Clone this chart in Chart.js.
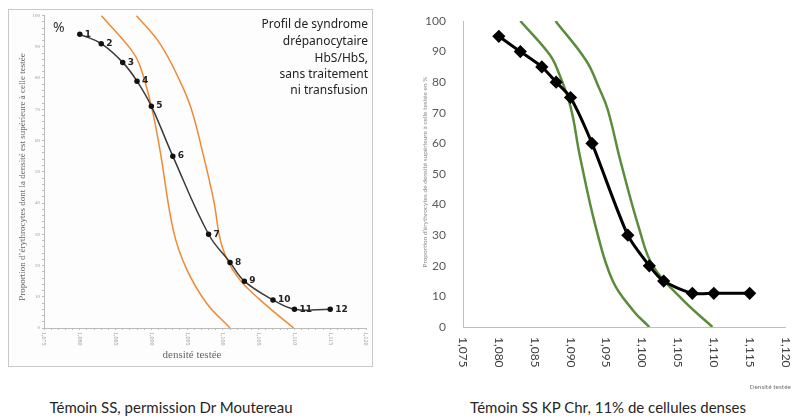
<!DOCTYPE html>
<html>
<head>
<meta charset="utf-8">
<script src="https://cdn.jsdelivr.net/npm/chart.js@4.4.0/dist/chart.umd.min.js"></script>
<style>
  body { margin: 0; width: 793px; height: 416px; background: #fff; position: relative; overflow: hidden; }
  #box { position: absolute; left: 8px; top: 9px; width: 363px; height: 356px; border: 1px solid #c9c9c9; background: #fdfdfd; }
  #left { position: absolute; left: 0; top: 0; }
  #right { position: absolute; left: 400px; top: 0; }
  .caption { position: absolute; top: 398px; font-family: Lato, sans-serif; font-size: 15px; color: #262626; white-space: nowrap; transform: translateX(-50%); }
</style>
</head>
<body>
<div id="box"><canvas id="left" width="363" height="356"></canvas></div>
<canvas id="right" width="393" height="392"></canvas>
<div class="caption" style="left:171px">Témoin SS, permission Dr Moutereau</div>
<div class="caption" style="left:608px">Témoin SS KP Chr, 11% de cellules denses</div>
<script>
// left panel (scan, Dr Moutereau)
const leftDensity = [1.080, 1.083, 1.086, 1.088, 1.090, 1.093, 1.098, 1.101, 1.103, 1.107, 1.110, 1.115];
const leftPercent = [94, 91, 85, 79, 71, 55, 30, 21, 15, 9, 6, 6];
const leftNumbers = ['1', '2', '3', '4', '5', '6', '7', '8', '9', '10', '11', '12'];
const leftLowX = [1.0830, 1.0872, 1.0884, 1.0900, 1.0912, 1.0931, 1.0949, 1.0977, 1.1010];
const leftLowY = [100, 89, 84, 71, 57, 31, 19, 8, 0];
const leftHighX = [1.0879, 1.0912, 1.0940, 1.0956, 1.0973, 1.0987, 1.0999, 1.1020, 1.1052, 1.1099];
const leftHighY = [100, 91, 79, 70, 55, 41, 26, 16.5, 9, 0];

// right panel (KP Chr)
const rightDensity = [1.080, 1.083, 1.086, 1.088, 1.090, 1.093, 1.098, 1.101, 1.103, 1.107, 1.110, 1.115];
const rightPercent = [95, 90, 85, 80, 75, 60, 30, 20, 15, 11, 11, 11];
const rightLowX = [1.0830, 1.0871, 1.0882, 1.0900, 1.0913, 1.0936, 1.0959, 1.0987, 1.1010];
const rightLowY = [100, 89, 84, 72, 56, 32, 15, 5.5, 0];
const rightHighX = [1.0879, 1.0922, 1.0940, 1.0952, 1.0970, 1.0996, 1.1015, 1.1056, 1.1098];
const rightHighY = [100, 87, 78, 71, 54, 32, 20, 9, 0];

const pairs = (xs, ys) => xs.map((x, i) => ({x: x, y: ys[i]}));

// x tick labels written downwards, "1,075" style
function rotatedTicks(font, color, offset, every) {
    return {
        id: 'rotatedTicks',
        afterDraw(chart) {
            const ctx = chart.ctx;
            const scale = chart.scales.x;
            ctx.save();
            ctx.font = font;
            ctx.fillStyle = color;
            ctx.textAlign = 'left';
            ctx.textBaseline = 'middle';
            scale.ticks.forEach(t => {
                const k = Math.round(t.value * 1000);
                if (k % every !== 0) return;
                ctx.save();
                ctx.translate(scale.getPixelForValue(t.value), scale.top + offset);
                ctx.rotate(Math.PI / 2);
                ctx.fillText((k / 1000).toFixed(3).replace('.', ','), 0, 0);
                ctx.restore();
            });
            ctx.restore();
        }
    };
}

// free texts (titles, notes)
function notes(items) {
    return {
        id: 'notes',
        afterDraw(chart) {
            const ctx = chart.ctx;
            items.forEach(n => {
                ctx.save();
                ctx.font = n.font;
                ctx.fillStyle = n.color;
                ctx.textAlign = n.align || 'left';
                ctx.textBaseline = 'middle';
                ctx.translate(n.x, n.y);
                if (n.rotate) ctx.rotate(n.rotate);
                ctx.fillText(n.text, 0, 0);
                ctx.restore();
            });
        }
    };
}

const pointNumbers = {
    id: 'pointNumbers',
    afterDatasetsDraw(chart) {
        const ctx = chart.ctx;
        ctx.save();
        ctx.font = 'bold 9px "DejaVu Sans"';
        ctx.fillStyle = '#222';
        ctx.textAlign = 'left';
        ctx.textBaseline = 'middle';
        chart.getDatasetMeta(0).data.forEach((pt, i) => {
            ctx.fillText(leftNumbers[i], pt.x + 5, pt.y);
        });
        ctx.restore();
    }
};

const comic = '12px "Noto Sans"';
const serif = '"Liberation Serif"';

new Chart(document.getElementById('left'), {
    type: 'line',
    data: {
        datasets: [
            {
                data: pairs(leftDensity, leftPercent),
                borderColor: '#3a3a3a',
                borderWidth: 1.5,
                tension: 0.4,
                pointRadius: 2,
                pointBackgroundColor: '#111',
                pointBorderColor: '#111'
            },
            {
                data: pairs(leftLowX, leftLowY),
                borderColor: '#ef8a33',
                borderWidth: 1.5,
                tension: 0.4,
                pointRadius: 0
            },
            {
                data: pairs(leftHighX, leftHighY),
                borderColor: '#ef8a33',
                borderWidth: 1.5,
                tension: 0.4,
                pointRadius: 0
            }
        ]
    },
    options: {
        responsive: false,
        animation: false,
        layout: { padding: { top: 5, right: 6, left: 0, bottom: 0 } },
        plugins: { legend: { display: false }, tooltip: { enabled: false } },
        scales: {
            x: {
                type: 'linear',
                min: 1.075,
                max: 1.12,
                ticks: { stepSize: 0.001, display: false },
                grid: { drawOnChartArea: false, tickLength: 2, color: '#bbb' },
                border: { color: '#bbb' },
                afterFit: s => { s.height = 38; }
            },
            y: {
                min: 0,
                max: 100,
                ticks: {
                    stepSize: 2,
                    autoSkip: false,
                    padding: 2,
                    color: '#999',
                    font: { family: 'Liberation Serif', size: 5 },
                    callback: v => (v % 10 === 0 ? v : '')
                },
                grid: { drawOnChartArea: false, tickLength: 2, color: '#bbb' },
                border: { color: '#bbb' },
                afterFit: s => { s.width = 35; }
            }
        }
    },
    plugins: [
        pointNumbers,
        rotatedTicks('6px ' + serif, '#999', 4, 5),
        notes([
            { text: 'Proportion d\u2019érythrocytes dont la densité est supérieure à celle testée', x: 14, y: 167, rotate: -Math.PI / 2, align: 'center', font: '9px ' + serif, color: '#666' },
            { text: 'densité testée', x: 183, y: 345, align: 'center', font: '11px ' + serif, color: '#666' },
            { text: '%', x: 44, y: 18, font: '14px "Noto Sans"', color: '#333' },
            { text: 'Profil de syndrome', x: 359, y: 15, align: 'right', font: comic, color: '#222' },
            { text: 'drépanocytaire', x: 359, y: 32, align: 'right', font: comic, color: '#222' },
            { text: 'HbS/HbS,', x: 359, y: 49, align: 'right', font: comic, color: '#222' },
            { text: 'sans traitement', x: 359, y: 65, align: 'right', font: comic, color: '#222' },
            { text: 'ni transfusion', x: 359, y: 81, align: 'right', font: comic, color: '#222' }
        ])
    ]
});

new Chart(document.getElementById('right'), {
    type: 'line',
    data: {
        datasets: [
            {
                data: pairs(rightDensity, rightPercent),
                borderColor: '#000',
                borderWidth: 3,
                tension: 0.25,
                pointStyle: 'rectRot',
                pointRadius: 4.5,
                pointBackgroundColor: '#000',
                pointBorderColor: '#000'
            },
            {
                data: pairs(rightLowX, rightLowY),
                borderColor: '#5a8c3c',
                borderWidth: 2.5,
                tension: 0.4,
                pointRadius: 0
            },
            {
                data: pairs(rightHighX, rightHighY),
                borderColor: '#5a8c3c',
                borderWidth: 2.5,
                tension: 0.4,
                pointRadius: 0
            }
        ]
    },
    options: {
        responsive: false,
        animation: false,
        layout: { padding: { top: 21, right: 7, left: 0, bottom: 0 } },
        plugins: { legend: { display: false }, tooltip: { enabled: false } },
        scales: {
            x: {
                type: 'linear',
                min: 1.075,
                max: 1.12,
                ticks: { stepSize: 0.005, display: false },
                grid: { display: false },
                border: { color: '#bfbfbf' },
                afterFit: s => { s.height = 65; }
            },
            y: {
                min: 0,
                max: 100,
                ticks: { stepSize: 10, padding: 9, color: '#595959', font: { family: 'Lato', size: 12 } },
                grid: { display: false },
                border: { color: '#bfbfbf' },
                afterFit: s => { s.width = 63; }
            }
        }
    },
    plugins: [
        rotatedTicks('12px Lato', '#404040', 10, 5),
        notes([
            { text: 'Proportion d\u2019érythrocytes de densité supérieure à celle testée en %', x: 25, y: 172, rotate: -Math.PI / 2, align: 'center', font: '6.5px Lato', color: '#888' },
            { text: 'Densité testée', x: 391, y: 387, align: 'right', font: '6.5px Lato', color: '#777' }
        ])
    ]
});
</script>
</body>
</html>
